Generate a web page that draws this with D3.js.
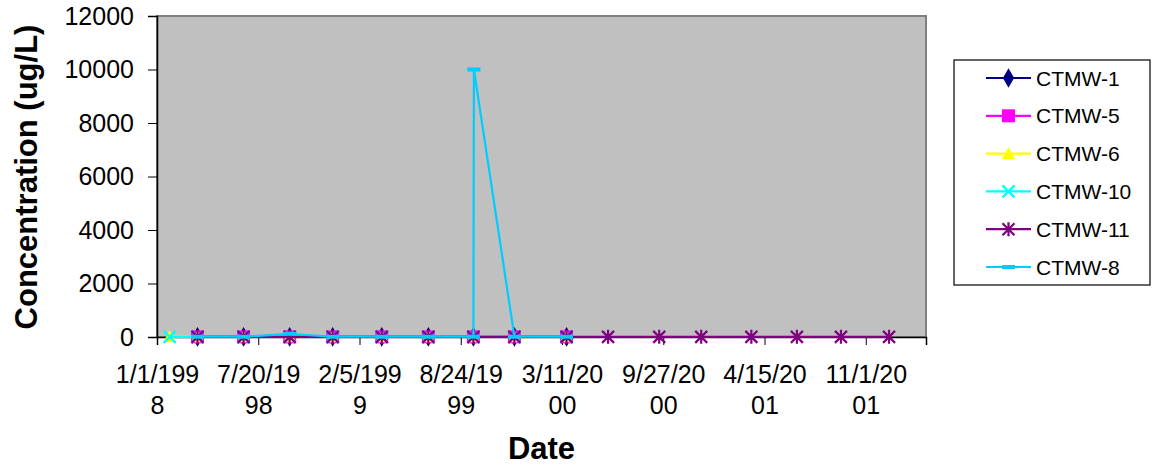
<!DOCTYPE html>
<html><head><meta charset="utf-8">
<script src="https://cdn.jsdelivr.net/npm/d3@7"></script>
<style>body{margin:0;background:#fff}svg{display:block;font-family:"Liberation Sans",Arial,sans-serif}</style>
</head><body><svg id="c" width="1158" height="474"></svg>
<script>
// ---- data ----
const sampleDates = ["1998-01-26","1998-03-22","1998-06-21","1998-09-20","1998-12-14","1999-03-21","1999-06-21","1999-09-18","1999-12-08","2000-03-20","2000-06-10","2000-09-19","2000-12-11","2001-03-20","2001-06-18","2001-09-13","2001-12-17"];
const ctmw1  = [null,5,5,5,5,5,5,5,5,5,null,null,null,null,null,null,null];
const ctmw5  = [null,5,5,5,5,5,5,5,5,5,null,null,null,null,null,null,null];
const ctmw6  = [5,5,5,5,5,5,5,5,5,5,null,null,null,null,null,null,null];
const ctmw10 = [5,5,5,5,5,5,5,5,5,5,null,null,null,null,null,null,null];
const ctmw11 = [null,5,5,5,5,5,5,5,5,5,5,5,5,5,5,5,5];
const ctmw8Dates  = ["1998-03-22","1998-06-21","1998-09-20","1998-12-14","1999-03-21","1999-06-21","1999-09-18","1999-09-19","1999-12-08","2000-03-20"];
const ctmw8Values = [10,10,120,10,10,10,10,10000,10,10];
const seriesNames = ["CTMW-1","CTMW-5","CTMW-6","CTMW-10","CTMW-11","CTMW-8"];
const seriesColors = ["#000080","#FF00FF","#FFFF00","#00FFFF","#800080","#00CCFF"];
const seriesMarkers = ["diamond","square","triangle","x","asterisk","dash"];
const xTickDates = ["1998-01-01","1998-07-20","1999-02-05","1999-08-24","2000-03-11","2000-09-27","2001-04-15","2001-11-01"];
const xTickLabels = ["1/1/1998","7/20/1998","2/5/1999","8/24/1999","3/11/2000","9/27/2000","4/15/2001","11/1/2001"];
const yTicks = [0,2000,4000,6000,8000,10000,12000];
const xDomain = ["1998-01-01","2002-02-28"];
const yDomain = [0,12000];

// ---- layout ----
const svg = d3.select("#c");
const L=157, R=926, T=16, B=337;
const parse = s => new Date(s+"T00:00:00Z");
const x = d3.scaleUtc().domain(xDomain.map(parse)).range([L,R]);
const y = d3.scaleLinear().domain(yDomain).range([B,T]);

svg.append("rect").attr("x",L).attr("y",T).attr("width",R-L).attr("height",B-T)
  .attr("fill","#C0C0C0").attr("stroke","#808080").attr("stroke-width",2);

// axes
const yAxis = d3.axisLeft(y).tickValues(yTicks).tickSize(9).tickPadding(14).tickFormat(d3.format("d"));
const gy = svg.append("g").attr("transform",`translate(${L},0)`).call(yAxis);
gy.select(".domain").attr("stroke","#000").attr("stroke-width",1.5);
gy.selectAll(".tick line").attr("stroke","#000");
gy.selectAll("text").attr("font-size",25).attr("fill","#000").attr("font-family","Liberation Sans, Arial, sans-serif");

const xAxis = d3.axisBottom(x).tickValues(xTickDates.map(parse)).tickSize(8).tickFormat(()=>"");
const gx = svg.append("g").attr("transform",`translate(0,${B})`).call(xAxis);
gx.select(".domain").attr("stroke","#000").attr("stroke-width",1.5);
gx.selectAll(".tick line").attr("stroke","#000");
gx.selectAll(".tick").each(function(d,i){
  const lab = xTickLabels[i];
  const t = d3.select(this).append("text").attr("fill","#000").attr("font-size",25)
    .attr("text-anchor","middle").attr("font-family","Liberation Sans, Arial, sans-serif");
  t.append("tspan").attr("x",0).attr("y",46).text(lab.slice(0,7));
  t.append("tspan").attr("x",0).attr("y",77).text(lab.slice(7));
});

// titles
svg.append("text").attr("x",541.5).attr("y",459).attr("text-anchor","middle")
  .attr("font-size",31).attr("font-weight","bold").text("Date");
svg.append("text").attr("transform","translate(37,177) rotate(-90)").attr("text-anchor","middle")
  .attr("font-size",31).attr("font-weight","bold").text("Concentration (ug/L)");

// markers
function markerPath(kind){
  switch(kind){
    case "diamond": return d3.symbol(d3.symbolDiamond,110)();
    case "square": return "M-6.5,-6.5H6.5V6.5H-6.5Z";
    case "triangle": return "M0,-6.5L6.5,5.5H-6.5Z";
    case "x": return "M-6,-6L6,6M-6,6L6,-6";
    case "asterisk": return "M-6,-6L6,6M-6,6L6,-6M0,-7V7";
    case "dash": return "M-6.5,-2H6.5V2H-6.5Z";
  }
}
function drawSeries(pts, i){
  const col = seriesColors[i], kind = seriesMarkers[i];
  const line = d3.line().x(d=>x(d[0])).y(d=>y(d[1]));
  svg.append("path").datum(pts).attr("d",line).attr("fill","none").attr("stroke",col).attr("stroke-width",2.2);
  const open = (kind==="x"||kind==="asterisk");
  svg.append("g").selectAll("path").data(pts).join("path")
    .attr("transform",d=>`translate(${x(d[0])},${y(d[1])})`)
    .attr("d",markerPath(kind))
    .attr("fill",open?"none":col).attr("stroke",col).attr("stroke-width",open?2.2:0);
}
const wellVals = [ctmw1,ctmw5,ctmw6,ctmw10,ctmw11];
wellVals.forEach((vals,i)=>{
  const pts = sampleDates.map((d,j)=>[parse(d),vals[j]]).filter(p=>p[1]!==null);
  drawSeries(pts,i);
});
drawSeries(ctmw8Dates.map((d,j)=>[parse(d),ctmw8Values[j]]),5);

// legend
const lg = svg.append("g");
lg.append("rect").attr("x",954).attr("y",60).attr("width",196).attr("height",225)
  .attr("fill","#fff").attr("stroke","#000").attr("stroke-width",1.2);
const ly = d3.scalePoint().domain(seriesNames).range([78,267]);
seriesNames.forEach((n,i)=>{
  const yy = ly(n), col = seriesColors[i], kind = seriesMarkers[i];
  lg.append("line").attr("x1",986).attr("x2",1031).attr("y1",yy).attr("y2",yy).attr("stroke",col).attr("stroke-width",2.2);
  const open = (kind==="x"||kind==="asterisk");
  lg.append("path").attr("transform",`translate(1008.5,${yy})`).attr("d",markerPath(kind))
    .attr("fill",open?"none":col).attr("stroke",col).attr("stroke-width",open?2.2:0);
  lg.append("text").attr("x",1036).attr("y",yy+7.5).attr("font-size",21).attr("fill","#000").text(n);
});
</script></body></html>
